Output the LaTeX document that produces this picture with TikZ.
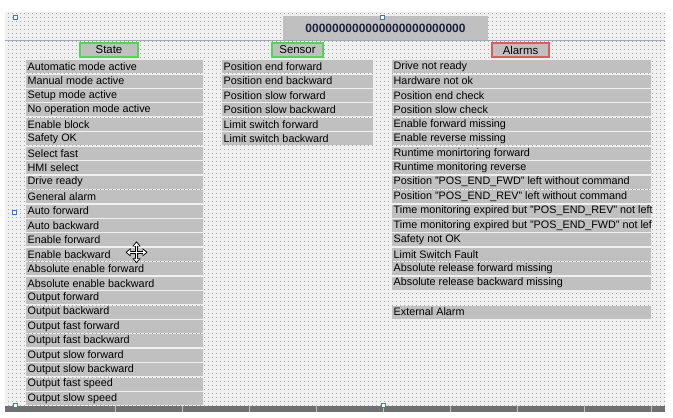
\documentclass[tikz,border=0pt]{standalone}
\usepackage{fontspec}
\setmainfont{Liberation Sans}
\usetikzlibrary{patterns,arrows.meta}

\pgfdeclarepatternformonly{hmidots}{\pgfpointorigin}{\pgfpoint{1pt}{1pt}}{\pgfpoint{4pt}{4pt}}{%
	\pgfpathrectangle{\pgfpointorigin}{\pgfpoint{1pt}{1pt}}\pgfusepath{fill}}

\definecolor{panelbg}{HTML}{F0F0F0}
\definecolor{dotgray}{HTML}{A4A4A4}
\definecolor{boxgray}{HTML}{C0C0C0}
\definecolor{okgreen}{HTML}{4CD94C}
\definecolor{alarmred}{HTML}{E05A5A}
\definecolor{titleblue}{HTML}{1C2340}
\definecolor{linegray}{HTML}{9CA8BC}
\definecolor{stripgray}{HTML}{707070}
\definecolor{handleblue}{HTML}{3A78D0}

\begin{document}
\begin{tikzpicture}[x=1pt,y=-1pt,>=Stealth,
	rowbox/.style={fill=boxgray, anchor=north west, minimum height=13pt,
		inner ysep=0pt, inner xsep=1.5pt, font=\fontsize{10.8}{12}\selectfont},
	headbox/.style={fill=boxgray, draw=#1, line width=1.2pt, minimum height=14pt,
		inner sep=0pt, font=\fontsize{11.4}{13}\selectfont},
	handle/.style={draw=handleblue, fill=white, line width=0.6pt}]
	\useasboundingbox (0,0) rectangle (673,418);
	\fill [white] (0,0) rectangle (673,418);
	
	% dotted panel
	\fill [panelbg] (5,12) rectangle (665,406);
	\fill [pattern=hmidots, pattern color=dotgray] (5,12) rectangle (665,406);
	\draw [linegray] (5,40.5) -- (665,40.5);
	
	\node [fill=boxgray, minimum width=205pt, minimum height=24pt, text=titleblue,
		font=\bfseries\fontsize{12}{14}\selectfont] (title) at (385.5,28)
		{000000000000000000000000};
	
	\node [headbox=okgreen, minimum width=58pt] (state) at (109,50) {State};
	\node [headbox=okgreen, minimum width=51pt] (sensor) at (297.5,50) {Sensor};
	\node [headbox=alarmred, minimum width=57pt] (alarms) at (520.5,50) {Alarms};
	
	% state column
	\foreach \txt [count=\i from 0] in {Automatic mode active, Manual mode active,
		Setup mode active, No operation mode active, Enable block, Safety OK,
		Select fast, HMI select, Drive ready, General alarm, Auto forward,
		Auto backward, Enable forward, Enable backward, Absolute enable forward,
		Absolute enable backward, Output forward, Output backward,
		Output fast forward, Output fast backward, Output slow forward,
		Output slow backward, Output fast speed, Output slow speed}
		\node [rowbox] (st\i) at (26,{60+14.43*\i}) {\makebox[174pt][l]{\txt}};
	
	% sensor column
	\foreach \txt [count=\i from 0] in {Position end forward, Position end backward,
		Position slow forward, Position slow backward, Limit switch forward,
		Limit switch backward}
		\node [rowbox] (se\i) at (222,{60+14.43*\i}) {\makebox[148pt][l]{\txt}};
	
	% alarm column
	\foreach \txt [count=\i from 0] in {Drive not ready, Hardware not ok,
		Position end check, Position slow check, Enable forward missing,
		Enable reverse missing, Runtime monirtoring forward,
		Runtime monitoring reverse,
		Position "POS\_END\_FWD" left without command,
		Position "POS\_END\_REV" left without command,
		Time monitoring expired but "POS\_END\_REV" not left,
		Time monitoring expired but "POS\_END\_FWD" not lef,
		Safety not OK, Limit Switch Fault, Absolute release forward missing,
		Absolute release backward missing}
		\node [rowbox] (al\i) at (392,{60+14.43*\i}) {\makebox[256pt][l]{\txt}};
	\node [rowbox] (al17) at (392,{60+14.43*17}) {\makebox[256pt][l]{External Alarm}};
	
	% bottom strip
	\fill [stripgray] (5,406) rectangle (665,412);
	\foreach \x in {115,182,...,651}
		\draw [boxgray] (\x,406) -- (\x,412);
	
	% selection handles
	\foreach \p in {(15,17),(382,17),(14,212),(15,405),(383,405)}
		\draw [handle] \p ++(-2,-2) rectangle ++(4,4);
	
	% move cursor
	\draw [line width=2.8pt, {Triangle[width=8pt,length=5pt]}-{Triangle[width=8pt,length=5pt]}]
		(125.5,252.3) -- (147.5,252.3);
	\draw [line width=2.8pt, {Triangle[width=8pt,length=5pt]}-{Triangle[width=8pt,length=5pt]}]
		(136.5,241.3) -- (136.5,263.3);
	\draw [white, line width=1pt, {Triangle[width=5pt,length=3pt]}-{Triangle[width=5pt,length=3pt]}]
		(127,252.3) -- (146,252.3);
	\draw [white, line width=1pt, {Triangle[width=5pt,length=3pt]}-{Triangle[width=5pt,length=3pt]}]
		(136.5,242.8) -- (136.5,261.8);
\end{tikzpicture}
\end{document}
